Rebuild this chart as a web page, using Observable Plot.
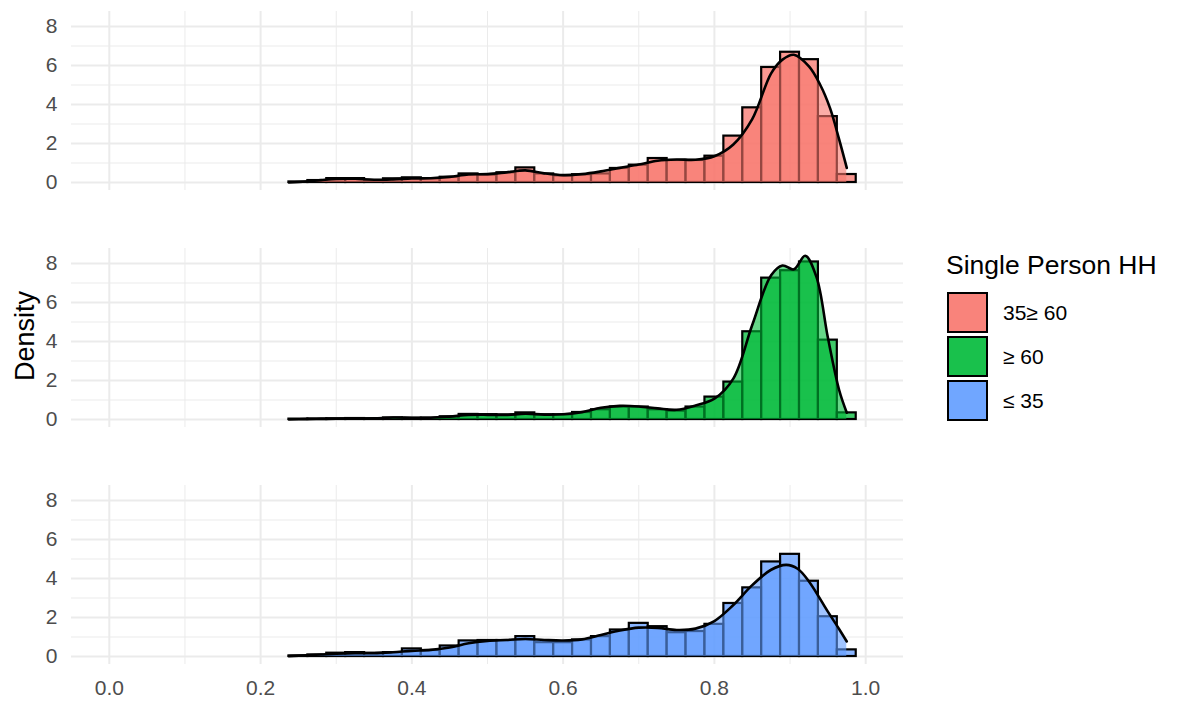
<!DOCTYPE html>
<html>
<head>
<meta charset="utf-8">
<script src="https://cdn.jsdelivr.net/npm/d3@7"></script>
<script src="https://cdn.jsdelivr.net/npm/@observablehq/plot@0.6"></script>
<style>
  html, body { margin: 0; padding: 0; background: #fff; }
  #wrap { position: relative; width: 1177px; height: 702px; font-family: "Liberation Sans", Arial, sans-serif; }
  #ylab { position: absolute; left: 25px; top: 336px; transform: translate(-50%, -50%) rotate(-90deg);
          font-size: 27px; color: #000; white-space: nowrap; line-height: 1; }
  .lg-title { position: absolute; left: 946px; top: 252px; font-size: 26.5px; line-height: 26.5px; color: #000; white-space: nowrap; }
  .lg-key { position: absolute; left: 947px; width: 41px; height: 41px; box-sizing: border-box; border: 2px solid #000; }
  .lg-label { position: absolute; left: 1003px; font-size: 21px; line-height: 21px; color: #000; white-space: nowrap; }
</style>
</head>
<body>
<div id="wrap"></div>
<script>
// Age groups of single-person households, in panel order
const groups = ["35≥ 60", "≥ 60", "≤ 35"];
const colors = ["#F8766D", "#00BA38", "#619CFF"];

// Histogram bins (centres) and bin width
const binCenters = [0.25, 0.275, 0.3, 0.325, 0.35, 0.375, 0.4, 0.425, 0.45, 0.475,
                    0.5, 0.525, 0.55, 0.575, 0.6, 0.625, 0.65, 0.675, 0.7, 0.725,
                    0.75, 0.775, 0.8, 0.825, 0.85, 0.875, 0.9, 0.925, 0.95, 0.975];
const binWidth = 0.025;

// Histogram densities per group
const histMid = [0.03, 0.1, 0.2, 0.2, 0.1, 0.19, 0.24, 0.2, 0.27, 0.44,
                 0.38, 0.5, 0.75, 0.44, 0.34, 0.4, 0.44, 0.72, 0.89, 1.23,
                 1.13, 1.13, 1.35, 2.38, 3.83, 5.9, 6.68, 6.3, 3.38, 0.41];
const histOld = [0.02, 0.03, 0.04, 0.05, 0.04, 0.08, 0.06, 0.07, 0.14, 0.26,
                 0.25, 0.24, 0.34, 0.24, 0.24, 0.36, 0.5, 0.64, 0.64, 0.5,
                 0.43, 0.64, 1.15, 1.92, 4.5, 7.25, 7.63, 8.08, 4.07, 0.34];
const histYoung = [0.03, 0.08, 0.17, 0.2, 0.17, 0.2, 0.39, 0.31, 0.54, 0.8,
                   0.82, 0.82, 1.02, 0.71, 0.71, 0.85, 1.02, 1.36, 1.7, 1.53,
                   1.22, 1.28, 1.65, 2.72, 3.52, 4.85, 5.24, 3.86, 2.04, 0.34];

// Kernel density estimates per group
const densMidX = [0.2375, 0.26, 0.28, 0.3, 0.325, 0.35, 0.375, 0.4, 0.425, 0.45, 0.475, 0.5,
                  0.525, 0.55, 0.575, 0.6, 0.625, 0.65, 0.675, 0.7, 0.725, 0.75, 0.775, 0.8,
                  0.825, 0.85, 0.875, 0.89, 0.905, 0.925, 0.94, 0.953, 0.965, 0.975];
const densMidY = [0, 0.05, 0.12, 0.18, 0.19, 0.14, 0.16, 0.21, 0.22, 0.29, 0.41, 0.43,
                  0.52, 0.62, 0.47, 0.38, 0.43, 0.57, 0.75, 0.92, 1.12, 1.18, 1.17, 1.35,
                  1.95, 3.25, 5.6, 6.3, 6.55, 5.95, 5.0, 3.8, 2.2, 0.75];
const densOldX = [0.2375, 0.26, 0.28, 0.3, 0.325, 0.35, 0.375, 0.4, 0.425, 0.45, 0.475, 0.5,
                  0.525, 0.55, 0.575, 0.6, 0.625, 0.65, 0.675, 0.7, 0.725, 0.75, 0.775, 0.8,
                  0.825, 0.85, 0.875, 0.89, 0.905, 0.92, 0.935, 0.95, 0.965, 0.975];
const densOldY = [0, 0.02, 0.03, 0.04, 0.05, 0.06, 0.1, 0.09, 0.09, 0.15, 0.23, 0.24,
                  0.23, 0.3, 0.25, 0.27, 0.38, 0.6, 0.7, 0.67, 0.57, 0.5, 0.72, 1.07,
                  2.1, 4.85, 7.4, 7.9, 7.7, 8.4, 7.3, 4.2, 1.5, 0.35];
const densYoungX = [0.2375, 0.26, 0.28, 0.3, 0.325, 0.35, 0.375, 0.4, 0.425, 0.45, 0.475, 0.5,
                    0.525, 0.55, 0.575, 0.6, 0.625, 0.65, 0.675, 0.7, 0.725, 0.75, 0.775, 0.8,
                    0.825, 0.85, 0.875, 0.895, 0.91, 0.925, 0.95, 0.965, 0.975];
const densYoungY = [0.02, 0.06, 0.1, 0.14, 0.17, 0.17, 0.22, 0.29, 0.34, 0.46, 0.68, 0.8,
                    0.85, 0.9, 0.85, 0.82, 0.88, 1.1, 1.33, 1.48, 1.47, 1.36, 1.43, 1.82,
                    2.64, 3.66, 4.45, 4.7, 4.5, 3.85, 2.3, 1.4, 0.77];

// Axis ticks and grid positions
const xTicks = [0, 0.2, 0.4, 0.6, 0.8, 1.0];
const xMinor = [0.1, 0.3, 0.5, 0.7, 0.9];
const yTicks = [0, 2, 4, 6, 8];
const yMinor = [1, 3, 5, 7];

const hists = [histMid, histOld, histYoung];
const densX = [densMidX, densOldX, densYoungX];
const densY = [densMidY, densOldY, densYoungY];

const bars = groups.flatMap((g, i) => binCenters.map((c, j) => ({
  group: g, x1: c - binWidth / 2, x2: c + binWidth / 2, y: hists[i][j]
})));
const dens = groups.flatMap((g, i) => densX[i].map((x, j) => ({group: g, x, y: densY[i][j]})));

const grid = "#EBEBEB";
const chart = Plot.plot({
  width: 1177,
  height: 702,
  marginLeft: 71,
  marginRight: 274,
  marginTop: 10,
  marginBottom: 38,
  style: {fontFamily: "'Liberation Sans', Arial, sans-serif", fontSize: "21px", color: "#4D4D4D", background: "white"},
  x: {domain: [-0.05, 1.05], ticks: xTicks, tickFormat: d3.format(".1f"), tickSize: 0, tickPadding: 16, label: null},
  y: {domain: [-0.41, 8.77], ticks: yTicks, tickSize: 0, tickPadding: 14, label: null},
  fy: {domain: groups, axis: null, paddingInner: 0.246, paddingOuter: 0},
  color: {domain: groups, range: colors},
  marks: [
    Plot.ruleY(yMinor, {stroke: grid, strokeOpacity: 1, strokeWidth: 1}),
    Plot.ruleX(xMinor, {stroke: grid, strokeOpacity: 1, strokeWidth: 1}),
    Plot.ruleY(yTicks, {stroke: grid, strokeOpacity: 1, strokeWidth: 2}),
    Plot.ruleX(xTicks, {stroke: grid, strokeOpacity: 1, strokeWidth: 2}),
    Plot.rectY(bars, {x1: "x1", x2: "x2", y: "y", fy: "group", fill: "group",
                      fillOpacity: 0.75, stroke: "black", strokeWidth: 2.2}),
    Plot.areaY(dens, {x: "x", y: "y", fy: "group", fill: "group", fillOpacity: 0.6, curve: "catmull-rom"}),
    Plot.lineY(dens, {x: "x", y: "y", fy: "group", z: "group", stroke: "black", strokeWidth: 2.6, curve: "catmull-rom"})
  ]
});

const wrap = document.getElementById("wrap");
wrap.appendChild(chart);

// Shared y-axis title
const ylab = document.createElement("div");
ylab.id = "ylab";
ylab.textContent = "Density";
wrap.appendChild(ylab);

// Legend
const title = document.createElement("div");
title.className = "lg-title";
title.textContent = "Single Person HH";
wrap.appendChild(title);

const keyTops = [292, 336, 380];
groups.forEach((g, i) => {
  const key = document.createElement("div");
  key.className = "lg-key";
  key.style.top = keyTops[i] + "px";
  const c = d3.color(colors[i]);
  c.opacity = 0.9;
  key.style.background = c.formatRgb();
  wrap.appendChild(key);
  const lab = document.createElement("div");
  lab.className = "lg-label";
  lab.style.top = (keyTops[i] + 20.5 + 7.5 - 17.8) + "px";
  lab.textContent = g;
  wrap.appendChild(lab);
});
</script>
</body>
</html>
